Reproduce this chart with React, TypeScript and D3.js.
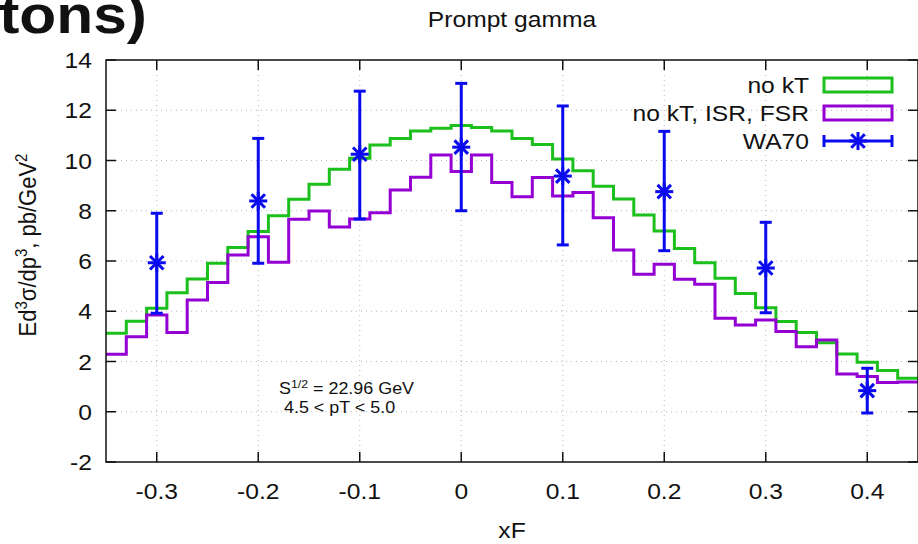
import React from 'react';
import * as d3 from 'd3';

// bin centres of the histograms (width 0.02)
const binCenters = d3.range(40).map(i => -0.34 + 0.02 * i);

const noKT = [
  3.12, 3.60, 4.12, 4.74, 5.28, 5.91, 6.54, 7.17, 7.80, 8.46,
  9.05, 9.65, 10.09, 10.62, 10.88, 11.17, 11.28, 11.39, 11.31, 11.17,
  10.88, 10.64, 10.06, 9.59, 8.98, 8.47, 7.83, 7.19, 6.50, 5.93,
  5.31, 4.71, 4.14, 3.59, 3.15, 2.75, 2.30, 1.97, 1.64, 1.33,
];

const noKTisrFsr = [
  2.29, 2.99, 3.85, 3.15, 4.45, 5.14, 6.24, 6.97, 5.95, 7.66,
  7.99, 7.35, 7.67, 7.92, 8.83, 9.33, 10.22, 9.56, 10.22, 9.12,
  8.56, 9.32, 8.59, 8.73, 7.72, 6.44, 5.47, 5.87, 5.27, 5.07,
  3.72, 3.45, 3.65, 3.19, 2.59, 2.86, 1.50, 1.40, 1.16, 1.18,
];

// WA70 measurement
const wa70X = [-0.3, -0.2, -0.1, 0, 0.1, 0.2, 0.3, 0.4];
const wa70Y = [5.93, 8.39, 10.25, 10.53, 9.38, 8.76, 5.72, 0.84];
const wa70Lo = [3.92, 5.91, 7.67, 8.0, 6.64, 6.41, 3.94, -0.05];
const wa70Hi = [7.90, 10.88, 12.76, 13.07, 12.17, 11.16, 7.54, 1.73];

const xTicks = [-0.3, -0.2, -0.1, 0, 0.1, 0.2, 0.3, 0.4];
const xTickLabels = ['-0.3', '-0.2', '-0.1', '0', '0.1', '0.2', '0.3', '0.4'];
const yTicks = [-2, 0, 2, 4, 6, 8, 10, 12, 14];

const GREEN = '#1cc01c';
const PURPLE = '#9400d3';
const BLUE = '#0a0aee';
const FONT = 'Liberation Sans, Arial, sans-serif';
const SX = 1.12; // text in the picture is a bit wider than tall

const W = 918, H = 544;
const m = { left: 106, right: 918, top: 60, bottom: 462 };

// text stretched horizontally round its anchor point
function T({ x, y, size, anchor = 'start', bold = false, children }: any) {
  return (
    <text transform={`translate(${x},${y}) scale(${SX},1)`} fontSize={size}
      textAnchor={anchor} fontWeight={bold ? 'bold' : 'normal'} fill="#111">
      {children}
    </text>
  );
}

export default function App() {
  const x = d3.scaleLinear().domain([-0.35, 0.45]).range([m.left, m.right]);
  const y = d3.scaleLinear().domain([-2, 14]).range([m.bottom, m.top]);

  const stepLine = d3.line<[number, number]>()
    .x(d => x(d[0]))
    .y(d => y(d[1]))
    .curve(d3.curveStepAfter);

  const histPath = (vals: number[]) => {
    const pts: [number, number][] = binCenters.map((c, i) => [c - 0.01, vals[i]]);
    pts.push([binCenters[binCenters.length - 1] + 0.01, vals[vals.length - 1]]);
    return stepLine(pts) || '';
  };

  const star = (cx: number, cy: number, r: number, key: string) => (
    <g key={key} stroke={BLUE} strokeWidth={3}>
      <line x1={cx - r} x2={cx + r} y1={cy} y2={cy} />
      <line x1={cx} x2={cx} y1={cy - r} y2={cy + r} />
      <line x1={cx - r * 0.75} x2={cx + r * 0.75} y1={cy - r * 0.75} y2={cy + r * 0.75} />
      <line x1={cx - r * 0.75} x2={cx + r * 0.75} y1={cy + r * 0.75} y2={cy - r * 0.75} />
    </g>
  );

  const tickLen = 10;

  return (
    <div style={{ position: 'absolute', left: 0, top: 0 }}>
      <svg width={W} height={H} style={{ display: 'block', fontFamily: FONT }}>
        <rect width={W} height={H} fill="#fff" />

        {/* cut-off heading of the page */}
        <T x={147} y={33} size={54} anchor="end" bold>tons)</T>

        <T x={(m.left + m.right) / 2} y={27} size={22} anchor="middle">Prompt gamma</T>

        {/* grid */}
        <g stroke="#b8b8b8" strokeWidth={1} strokeDasharray="1,4">
          {xTicks.map(t => (
            <line key={'gx' + t} x1={x(t)} x2={x(t)} y1={m.top} y2={m.bottom} />
          ))}
          {yTicks.slice(1, -1).map(t => (
            <line key={'gy' + t} x1={m.left} x2={m.right} y1={y(t)} y2={y(t)} />
          ))}
        </g>

        {/* histograms */}
        <path d={histPath(noKT)} fill="none" stroke={GREEN} strokeWidth={3} />
        <path d={histPath(noKTisrFsr)} fill="none" stroke={PURPLE} strokeWidth={3} />

        {/* WA70 points */}
        {wa70X.map((xv, i) => {
          const cx = x(xv);
          return (
            <g key={'wa' + i}>
              <g stroke={BLUE} strokeWidth={3}>
                <line x1={cx} x2={cx} y1={y(wa70Lo[i])} y2={y(wa70Hi[i])} />
                <line x1={cx - 6} x2={cx + 6} y1={y(wa70Lo[i])} y2={y(wa70Lo[i])} />
                <line x1={cx - 6} x2={cx + 6} y1={y(wa70Hi[i])} y2={y(wa70Hi[i])} />
              </g>
              {star(cx, y(wa70Y[i]), 9, 's' + i)}
            </g>
          );
        })}

        {/* frame and ticks */}
        <g stroke="#111" strokeWidth={1.5}>
          <rect x={m.left} y={m.top} width={m.right - m.left} height={m.bottom - m.top} fill="none" />
          {xTicks.map(t => (
            <g key={'tx' + t}>
              <line x1={x(t)} x2={x(t)} y1={m.bottom} y2={m.bottom - tickLen} />
              <line x1={x(t)} x2={x(t)} y1={m.top} y2={m.top + tickLen} />
            </g>
          ))}
          {yTicks.map(t => (
            <g key={'ty' + t}>
              <line x1={m.left} x2={m.left + tickLen} y1={y(t)} y2={y(t)} />
              <line x1={m.right} x2={m.right - tickLen} y1={y(t)} y2={y(t)} />
            </g>
          ))}
        </g>

        {/* tick labels */}
        {xTicks.map((t, i) => (
          <T key={'lx' + t} x={x(t)} y={499} size={22} anchor="middle">{xTickLabels[i]}</T>
        ))}
        {yTicks.map(t => (
          <T key={'ly' + t} x={92} y={y(t) + 8} size={22} anchor="end">{String(t)}</T>
        ))}

        <T x={(m.left + m.right) / 2} y={538} size={22} anchor="middle">xF</T>

        <text transform={`translate(36,245) scale(${SX},1) rotate(-90)`} fontSize={22} textAnchor="middle" fill="#111">
          Ed<tspan dy={-8} fontSize={15}>3</tspan><tspan dy={8}>σ/dp</tspan><tspan dy={-8} fontSize={15}>3</tspan><tspan dy={8}>, pb/GeV</tspan><tspan dy={-8} fontSize={15}>2</tspan>
        </text>

        {/* annotation */}
        <T x={279} y={394} size={16}>S<tspan dy={-6} fontSize={11}>1/2</tspan><tspan dy={6}> = 22.96 GeV</tspan></T>
        <T x={284} y={413} size={16}>4.5 &lt; pT &lt; 5.0</T>

        {/* legend */}
        <T x={809} y={93} size={22} anchor="end">no kT</T>
        <T x={809} y={121} size={22} anchor="end">no kT, ISR, FSR</T>
        <T x={809} y={149} size={22} anchor="end">WA70</T>
        <rect x={824} y={78} width={68} height={14} fill="none" stroke={GREEN} strokeWidth={3} />
        <rect x={824} y={106} width={68} height={14} fill="none" stroke={PURPLE} strokeWidth={3} />
        <g stroke={BLUE} strokeWidth={3}>
          <line x1={824} x2={892} y1={141} y2={141} />
          <line x1={824} x2={824} y1={135} y2={147} />
          <line x1={892} x2={892} y1={135} y2={147} />
        </g>
        {star(858, 141, 9, 'legstar')}
      </svg>
    </div>
  );
}
